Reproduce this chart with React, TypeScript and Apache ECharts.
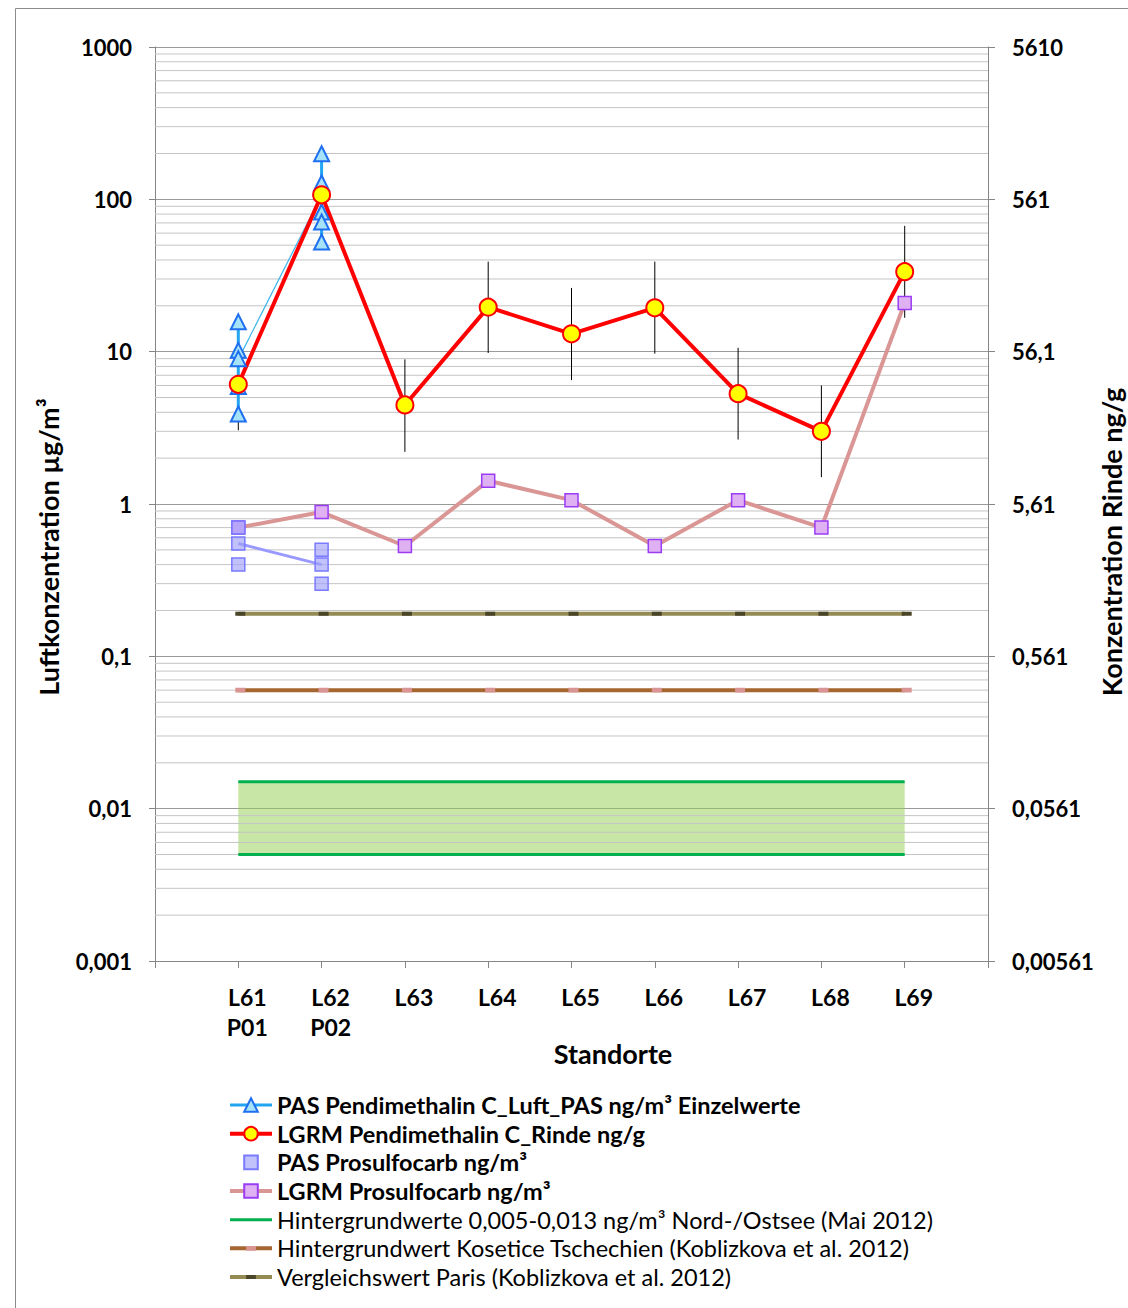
import React, { useEffect, useRef } from 'react';
import * as echarts from 'echarts';

// ---------- data ----------
const categories = ['L61\nP01', 'L62\nP02', 'L63', 'L64', 'L65', 'L66', 'L67', 'L68', 'L69'];
const catX = [1, 2, 3, 4, 5, 6, 7, 8, 9];

const pasPendiL61 = [15.7, 10.2, 9.0, 5.9, 3.9];
const pasPendiL62 = [199, 128, 82.6, 71, 52.5];
const pasPendiMean = [8.9, 106.6];

const lgrmPendi = [6.1, 107, 4.47, 19.6, 13.1, 19.4, 5.3, 3.0, 33.5];
const lgrmPendiLow = [3.05, 53.5, 2.2, 9.8, 6.5, 9.7, 2.65, 1.5, 16.7];
const lgrmPendiHigh = [12.2, 214, 8.9, 39, 26.2, 39, 10.6, 6.0, 67];

const pasProsL61 = [0.70, 0.55, 0.40];
const pasProsL62 = [0.50, 0.40, 0.30];
const pasProsMean = [0.55, 0.40];

const lgrmPros = [0.70, 0.885, 0.53, 1.42, 1.06, 0.53, 1.06, 0.70, 20.9];

const bgLow = 0.005;
const bgHigh = 0.015;
const kosetice = 0.06;
const paris = 0.19;

const rindeFactor = 5.61;
const minorFactors = [2, 3, 4, 5, 6, 7, 8, 9];
const decades = [0.001, 0.01, 0.1, 1, 10, 100];

const names = [
  'PAS Pendimethalin C_Luft_PAS ng/m³ Einzelwerte',
  'LGRM Pendimethalin C_Rinde ng/g',
  'PAS Prosulfocarb ng/m³',
  'LGRM Prosulfocarb ng/m³',
  'Hintergrundwerte 0,005-0,013 ng/m³ Nord-/Ostsee (Mai 2012)',
  'Hintergrundwert Kosetice Tschechien (Koblizkova et al. 2012)',
  'Vergleichswert Paris (Koblizkova et al. 2012)',
];

const FONT = 'Lato, "Noto Sans", sans-serif';

// dash-shaped markers inside a square box (tiny corner dots keep the bounding box square)
const dashIconTall = 'path://M0,0h0.01v0.01h-0.01z M2,4.6h10v4.8h-10z M13.99,13.99h0.01v0.01h-0.01z';
const dashIconFlat = 'path://M0,0h0.01v0.01h-0.01z M2,5h10v4h-10z M13.99,13.99h0.01v0.01h-0.01z';

const fmtNum = (v: number) => String(Number(v.toPrecision(3))).replace('.', ',');

export default function App() {
  const ref = useRef<HTMLDivElement>(null);

  useEffect(() => {
    if (!ref.current) return;
    const chart = echarts.init(ref.current, undefined, { renderer: 'svg' });

    const minorValues: number[][] = [];
    decades.forEach((d) => minorFactors.forEach((k) => minorValues.push([0, Number((d * k).toPrecision(3))])));

    const flat = (x: number, v: number) => [x, v];

    const labelFont = { fontFamily: FONT, fontWeight: 'bold', fontSize: 22, color: '#000' };
    const titleStyle = {
      fontFamily: FONT,
      fontWeight: 'bold',
      fontSize: 27,
      fill: '#000',
      textAlign: 'center',
      textVerticalAlign: 'middle',
      align: 'center',
      verticalAlign: 'middle',
    };

    const option: any = {
      animation: false,
      backgroundColor: '#fff',
      grid: { left: 155, right: 140, top: 47, bottom: 347, containLabel: false },
      xAxis: {
        type: 'value',
        min: 0,
        max: 10,
        interval: 1,
        axisLine: { show: true, onZero: false, lineStyle: { color: '#868686', width: 1 } },
        axisTick: { show: true, length: 7, lineStyle: { color: '#868686' } },
        splitLine: { show: false },
        axisLabel: {
          formatter: (v: number) => (v >= 1 && v <= 9 ? categories[v - 1] : ''),
          fontFamily: FONT,
          fontWeight: 'bold',
          fontSize: 23,
          lineHeight: 30,
          color: '#000',
          margin: 21,
          padding: [0, 0, 0, 18],
        },
      },
      yAxis: [
        {
          type: 'log',
          logBase: 10,
          min: 0.001,
          max: 1000,
          splitNumber: 6,
          position: 'left',
          axisLine: { show: true, lineStyle: { color: '#868686' } },
          axisTick: { show: true, length: 6, lineStyle: { color: '#868686' } },
          splitLine: { show: true, lineStyle: { color: '#9a9a9a' } },
          axisLabel: { ...labelFont, formatter: (v: number) => fmtNum(v), margin: 23 },
        },
        {
          type: 'log',
          logBase: 10,
          min: 0.001,
          max: 1000,
          splitNumber: 6,
          position: 'right',
          axisLine: { show: true, lineStyle: { color: '#868686' } },
          axisTick: { show: true, length: 7, lineStyle: { color: '#868686' } },
          splitLine: { show: false },
          axisLabel: { ...labelFont, formatter: (v: number) => fmtNum(v * rindeFactor), margin: 24 },
        },
      ],
      legend: {
        orient: 'vertical',
        left: 228,
        top: 1092,
        padding: 0,
        itemGap: 2.67,
        itemWidth: 42,
        itemHeight: 17,
        selectedMode: false,
        lineStyle: { width: 'inherit' },
        data: [
          { name: names[0] },
          { name: names[1] },
          { name: names[2] },
          { name: names[3] },
          { name: names[4], itemStyle: { color: 'rgba(0,0,0,0)', borderWidth: 0, opacity: 0 } },
          { name: names[5] },
          { name: names[6] },
        ],
        formatter: (name: string) => (names.indexOf(name) < 4 ? `{b|${name}}` : `{n|${name}}`),
        textStyle: {
          fontFamily: FONT,
          fontSize: 23.5,
          lineHeight: 26,
          color: '#000',
          rich: {
            b: { fontFamily: FONT, fontSize: 23.5, fontWeight: 'bold', lineHeight: 26, color: '#000' },
            n: { fontFamily: FONT, fontSize: 23.5, fontWeight: 'normal', lineHeight: 26, color: '#000' },
          },
        },
      },
      graphic: [
        {
          type: 'rect',
          silent: true,
          z: -10,
          shape: { x: 15.5, y: 8.5, width: 1200, height: 1400 },
          style: { fill: 'none', stroke: '#8c8c8c', lineWidth: 1 },
        },
        {
          type: 'text',
          x: 48,
          y: 547,
          rotation: Math.PI / 2,
          style: { ...titleStyle, text: 'Luftkonzentration µg/m³' },
        },
        {
          type: 'text',
          x: 1111,
          y: 542,
          rotation: Math.PI / 2,
          style: { ...titleStyle, text: 'Konzentration Rinde ng/g' },
        },
        {
          type: 'text',
          x: 613,
          y: 1053,
          style: { ...titleStyle, text: 'Standorte' },
        },
      ],
      series: [
        {
          type: 'custom',
          name: 'minorGrid',
          silent: true,
          data: minorValues,
          encode: { x: 0, y: 1 },
          renderItem: (params: any, api: any) => {
            const v = api.value(1);
            const a = api.coord([0, v]);
            const b = api.coord([10, v]);
            return {
              type: 'line',
              shape: { x1: a[0], y1: a[1], x2: b[0], y2: b[1] },
              style: { stroke: '#c4c4c4', lineWidth: 1 },
            };
          },
        },
        {
          type: 'line',
          name: names[4],
          data: catX.map((x) => flat(x, bgHigh)),
          symbol: 'none',
          lineStyle: { color: '#00b050', width: 3 },
          itemStyle: { color: '#00b050' },
          markArea: {
            silent: true,
            itemStyle: { color: 'rgba(146,208,80,0.5)' },
            data: [[{ xAxis: 1, yAxis: bgLow }, { xAxis: 9, yAxis: bgHigh }]],
          },
        },
        {
          type: 'line',
          name: names[4],
          data: catX.map((x) => flat(x, bgLow)),
          symbol: 'none',
          lineStyle: { color: '#00b050', width: 3 },
          itemStyle: { color: '#00b050' },
        },
        {
          type: 'line',
          name: names[5],
          data: catX.map((x) => flat(x, kosetice)),
          symbol: dashIconTall,
          symbolSize: 14,
          symbolOffset: [2, 0],
          lineStyle: { color: '#a5662f', width: 4 },
          itemStyle: { color: '#d99594', borderWidth: 0 },
        },
        {
          type: 'line',
          name: names[6],
          data: catX.map((x) => flat(x, paris)),
          symbol: dashIconFlat,
          symbolSize: 14,
          symbolOffset: [2, 0],
          lineStyle: { color: '#948a54', width: 4 },
          itemStyle: { color: '#4a4529', borderWidth: 0 },
        },
        {
          type: 'line',
          name: names[3],
          data: catX.map((x, i) => flat(x, lgrmPros[i])),
          symbol: 'rect',
          symbolSize: 13,
          lineStyle: { color: '#d99694', width: 4 },
          itemStyle: { color: '#dfb0f2', borderColor: '#9b3cf5', borderWidth: 1.5 },
        },
        {
          type: 'line',
          name: 'PAS Prosulfocarb Mittelwert',
          data: pasProsMean.map((v, i) => flat(catX[i], v)),
          symbol: 'none',
          lineStyle: { color: '#9999ff', width: 3 },
        },
        {
          type: 'line',
          name: names[2],
          data: [
            ...pasProsL61.map((v) => flat(catX[0], v)),
            [1.5, '-'],
            ...pasProsL62.map((v) => flat(catX[1], v)),
          ],
          symbol: 'rect',
          symbolSize: 13,
          connectNulls: false,
          lineStyle: { width: 0, opacity: 0, color: '#8080ff' },
          itemStyle: { color: 'rgba(160,160,250,0.65)', borderColor: '#7a7aff', borderWidth: 1.5 },
        },
        {
          type: 'line',
          name: 'PAS Pendimethalin Mittelwert',
          data: pasPendiMean.map((v, i) => flat(catX[i], v)),
          symbol: 'none',
          lineStyle: { color: '#3cb4f0', width: 1.2 },
        },
        {
          type: 'line',
          name: names[0],
          data: [
            ...pasPendiL61.map((v) => flat(catX[0], v)),
            [1.5, '-'],
            ...pasPendiL62.map((v) => flat(catX[1], v)),
          ],
          connectNulls: false,
          symbol: 'triangle',
          symbolSize: 15,
          lineStyle: { color: '#22a6f2', width: 3 },
          itemStyle: { color: '#a6e3f8', borderColor: '#1f6ff0', borderWidth: 2 },
        },
        {
          type: 'custom',
          name: 'Fehlerbalken',
          silent: true,
          data: catX.map((x, i) => [x, lgrmPendiLow[i], lgrmPendiHigh[i]]),
          encode: { x: 0, y: [1, 2] },
          renderItem: (params: any, api: any) => {
            const x = api.value(0);
            const lo = api.coord([x, api.value(1)]);
            const hi = api.coord([x, api.value(2)]);
            return {
              type: 'line',
              shape: { x1: lo[0], y1: lo[1], x2: hi[0], y2: hi[1] },
              style: { stroke: '#000', lineWidth: 1 },
            };
          },
        },
        {
          type: 'line',
          name: names[1],
          data: catX.map((x, i) => flat(x, lgrmPendi[i])),
          symbol: 'circle',
          symbolSize: 17,
          lineStyle: { color: '#ff0000', width: 4 },
          itemStyle: { color: '#ffff00', borderColor: '#ff0000', borderWidth: 2 },
        },
      ],
    };

    chart.setOption(option);
    return () => chart.dispose();
  }, []);

  return (
    <div
      ref={ref}
      style={{ position: 'absolute', left: 0, top: 0, width: 1128, height: 1308, background: '#fff' }}
    />
  );
}
